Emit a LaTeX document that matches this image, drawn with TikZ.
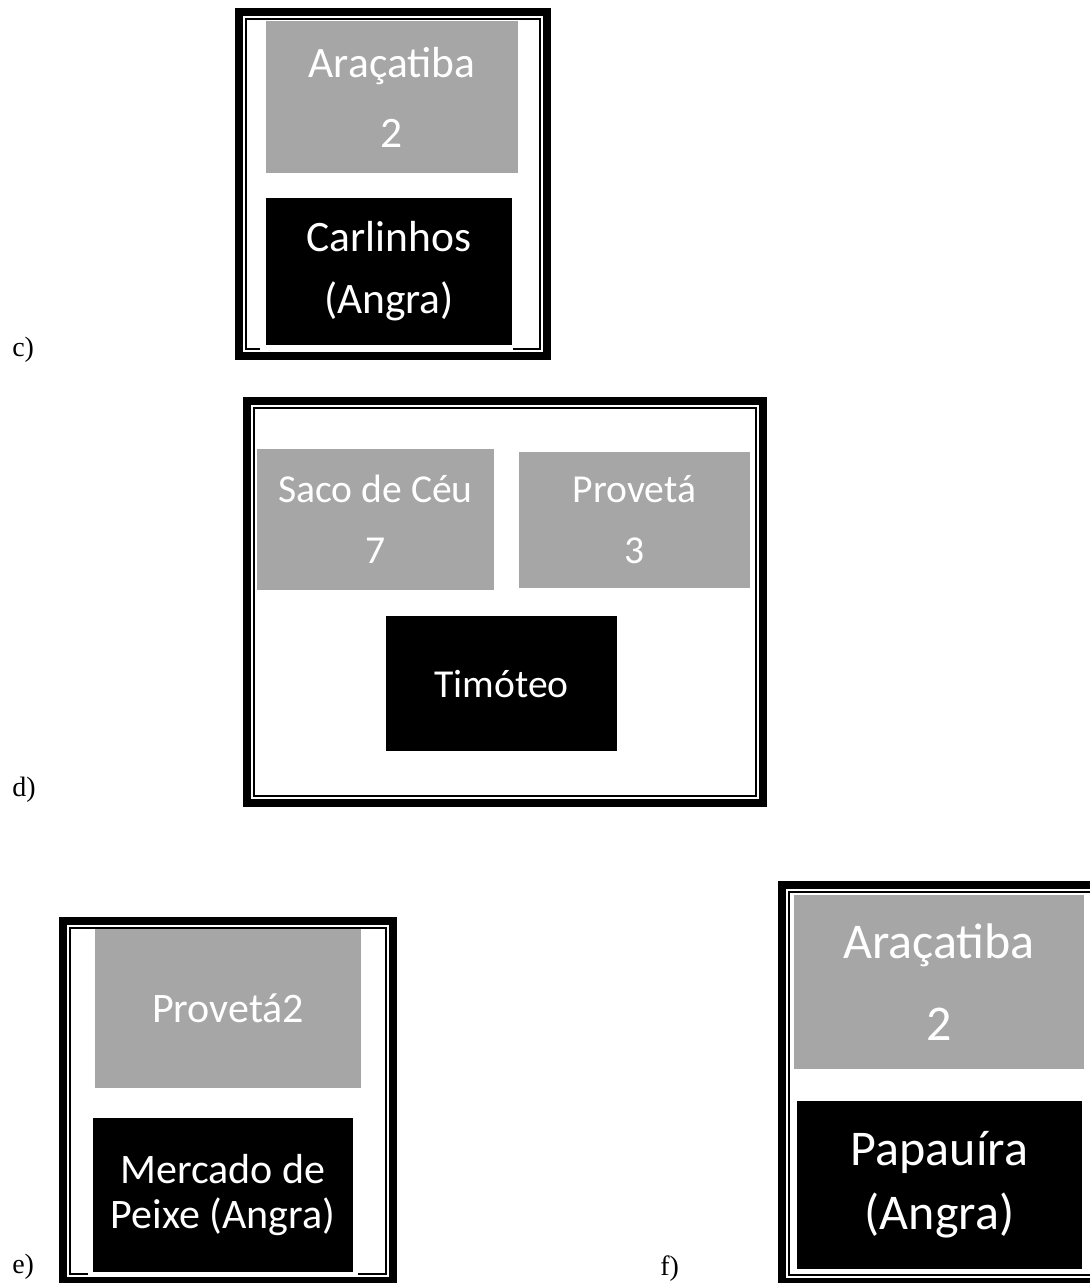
\documentclass[tikz,border=0pt]{standalone}
\usepackage{fontspec}
\setmainfont{Liberation Serif}
\newfontfamily\calibri{Carlito}
\usetikzlibrary{positioning}
\usepackage{xcolor}
\definecolor{meucinza}{RGB}{166,166,166}

% moldura grossa-fina: bordas externas x1 y1 x2 y2
\newcommand{\moldura}[4]{%
  \draw[line width=6pt] ({#1+4},{#2+4}) rectangle ({#3-4},{#4-4});
  \draw[line width=1.4pt] ({#1+11},{#2+11}) rectangle ({#3-11},{#4-11});
}

\begin{document}
\begin{tikzpicture}[
    x=0.75pt, y=-0.75pt,
    every node/.style={inner sep=0pt},
    caixacinza/.style={fill=meucinza, text=white, align=center},
    caixapreta/.style={fill=black, text=white, align=center},
    rotulo/.style={anchor=base west, font=\fontsize{21}{25}\selectfont}
]

\path[use as bounding box, clip] (0,0) rectangle (1090,1283);

% ------------------------------------------------
% c)
% ------------------------------------------------

\moldura{235}{8}{551}{360}

\node[
    caixacinza,
    minimum width=189pt,
    minimum height=114pt,
    font=\calibri\fontsize{32.6}{52.5}\selectfont
] (aracatibaC) at (392,97)
{Araçatiba\\2};

\fill[white] (260,346.5) rectangle (513,351.5);

\node[
    caixapreta,
    minimum width=184.5pt,
    minimum height=110.25pt,
    font=\calibri\fontsize{32.6}{46.5}\selectfont
] (carlinhosC) at (389,271.5)
{Carlinhos\\(Angra)};

\node[rotulo] (rotC) at (12,356) {c)};

% ------------------------------------------------
% d)
% ------------------------------------------------

\moldura{243}{397}{767}{807}

\node[
    caixacinza,
    minimum width=177.75pt,
    minimum height=105.75pt,
    font=\calibri\fontsize{29.7}{45.75}\selectfont
] (sacoD) at (375.5,519.5)
{Saco de Céu\\7};

\node[
    caixacinza,
    minimum width=173.25pt,
    minimum height=102pt,
    font=\calibri\fontsize{29.7}{45.75}\selectfont
] (provetaD) at (634.5,519.5)
{Provetá\\3};

\node[
    caixapreta,
    minimum width=173.25pt,
    minimum height=101.6pt,
    font=\calibri\fontsize{29.7}{45.75}\selectfont
] (timoteoD) at (501.5,683.75)
{Timóteo};

\node[rotulo] (rotD) at (12,796) {d)};

% ------------------------------------------------
% e)
% ------------------------------------------------

\moldura{59}{917}{397}{1285}

\node[
    caixacinza,
    minimum width=199.5pt,
    minimum height=119.25pt,
    font=\calibri\fontsize{31.5}{40}\selectfont
] (provetaE) at (228,1008.5)
{Provetá2};

\fill[white] (88,1271.5) rectangle (358,1276.5);

\node[
    caixapreta,
    minimum width=195pt,
    minimum height=115.5pt,
    font=\calibri\fontsize{31.5}{33.75}\selectfont
] (mercadoE) at (223,1195)
{Mercado de\\Peixe (Angra)};

\node[rotulo] (rotE) at (12,1273) {e)};

% ------------------------------------------------
% f)
% ------------------------------------------------

\moldura{778}{881}{1110}{1286}

\node[
    caixacinza,
    minimum width=217.5pt,
    minimum height=130.5pt,
    font=\calibri\fontsize{37.5}{61.5}\selectfont
] (aracatibaF) at (939,982)
{Araçatiba\\2};

\node[
    caixapreta,
    minimum width=213.75pt,
    minimum height=126pt,
    font=\calibri\fontsize{37.5}{48}\selectfont
] (papauiraF) at (939.5,1185)
{Papauíra\\(Angra)};

\node[rotulo] (rotF) at (660,1275) {f)};

\end{tikzpicture}
\end{document}
